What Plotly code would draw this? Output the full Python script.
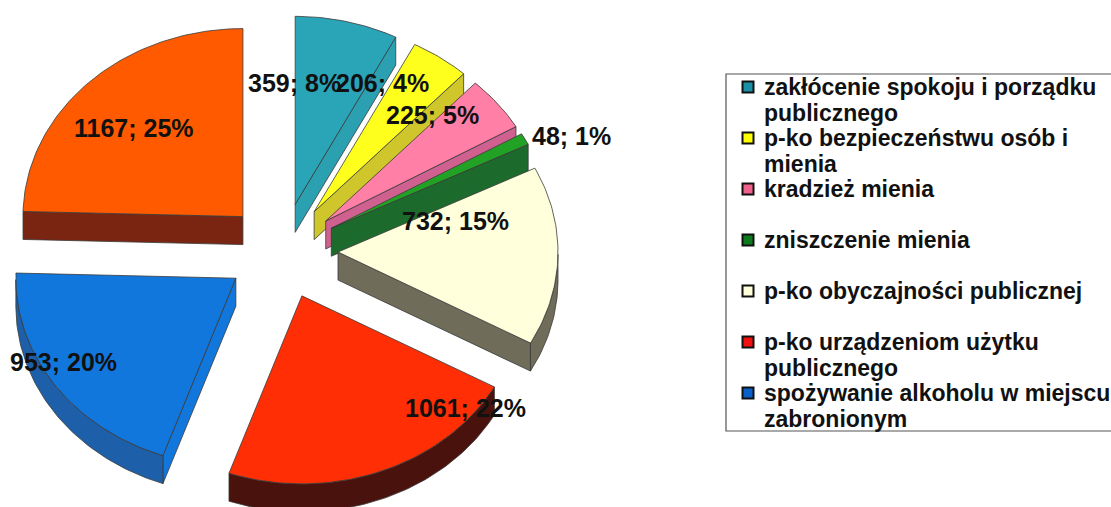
import math
import plotly.graph_objects as go

# --- data ---
categories = [
    "zakłócenie spokoju i porządku<br>publicznego",
    "p-ko bezpieczeństwu osób i<br>mienia",
    "kradzież mienia",
    "zniszczenie mienia",
    "p-ko obyczajności publicznej",
    "p-ko urządzeniom użytku<br>publicznego",
    "spożywanie alkoholu w miejscu<br>zabronionym",
]
values = [359, 206, 225, 48, 732, 1061, 953, 1167]

# --- style ---
top_colors = ["#2AA5B8", "#FFFF1E", "#FF7FA6", "#22A224", "#FFFFDC", "#FF2E05", "#1277DC", "#FF5A00"]
edge_colors = ["#2AA0B0", "#CFC62B", "#D0608F", "#1C6A2C", "#6F6D5A", "#4A120C", "#1277DC", "#7A2512"]
rim_colors = ["#1F7C8A", "#A8A020", "#A84C72", "#1C6A2C", "#6F6D5A", "#4A120C", "#1D5FA8", "#7A2512"]
swatch_colors = ["#1A8FA5", "#FFFF00", "#F0608A", "#0E7A1E", "#FFFFDC", "#F01010", "#0A60C8"]
label_centres = [(294, 83), (382, 83), (432, 115), (571, 136), (455, 221), (465, 408), (63, 362), (134, 128)]

CX, CY = 282, 251       # pie centre, pixels
RX, RY = 220, 188       # tilted pie radii
PX, PY = 56, 48         # explosion offset
DEPTH = 28
LINE = "#3A3A3A"
INK = "#111111"

LEGEND_LEFT, LEGEND_TOP, LEGEND_BOTTOM = 726, 74, 431
SWATCH_X, TEXT_X = 748, 762
FIRST_LINE_Y, ROW_STEP, LINE_STEP = 87, 51, 26

total = sum(values)
fig = go.Figure()


def polygon(points, color, line_width=0.8):
    fig.add_trace(go.Scatter(
        x=[p[0] for p in points] + [points[0][0]],
        y=[p[1] for p in points] + [points[0][1]],
        mode="lines", fill="toself", fillcolor=color,
        line=dict(color=LINE, width=line_width),
        hoverinfo="skip", showlegend=False,
    ))


start = 0.0
for i, v in enumerate(values):
    sweep = 360.0 * v / total
    end = start + sweep
    mid = math.radians(start + sweep / 2)
    ax = CX + PX * math.sin(mid)
    ay = CY - PY * math.cos(mid)

    def rim(deg, drop=0.0):
        t = math.radians(deg)
        return (ax + RX * math.sin(t), ay - RY * math.cos(t) + drop)

    steps = max(3, int(sweep))
    angles = [start + sweep * k / steps for k in range(steps + 1)]

    # radial side walls that face the viewer
    if math.sin(math.radians(end)) > 0:
        polygon([(ax, ay), rim(end), rim(end, DEPTH), (ax, ay + DEPTH)], edge_colors[i])
    if math.sin(math.radians(start)) < 0:
        polygon([(ax, ay), rim(start), rim(start, DEPTH), (ax, ay + DEPTH)], edge_colors[i])
    # outer rim wall, front half only
    front = [a for a in angles if 90 <= a <= 270]
    if len(front) > 1:
        polygon([rim(a) for a in front] + [rim(a, DEPTH) for a in reversed(front)], rim_colors[i])
    # top face
    polygon([(ax, ay)] + [rim(a) for a in angles], top_colors[i])

    start = end

# legend frame, swatches and text
fig.add_shape(type="rect", x0=LEGEND_LEFT, x1=1125, y0=LEGEND_TOP, y1=LEGEND_BOTTOM,
              xref="x", yref="y", line=dict(color="#555555", width=1.2), fillcolor="rgba(0,0,0,0)")
fig.add_trace(go.Scatter(
    x=[SWATCH_X] * len(categories),
    y=[FIRST_LINE_Y + ROW_STEP * k for k in range(len(categories))],
    mode="markers", showlegend=False, hoverinfo="skip",
    marker=dict(symbol="square", size=11, color=swatch_colors, line=dict(color=INK, width=2)),
))
for k, name in enumerate(categories):
    for j, line in enumerate(name.split("<br>")):
        fig.add_annotation(
            x=TEXT_X, y=FIRST_LINE_Y + ROW_STEP * k + LINE_STEP * j,
            xref="x", yref="y", xanchor="left", showarrow=False, text=line,
            font=dict(family="Liberation Sans", size=23, color=INK, weight=700),
        )

# value labels
for v, (lx, ly) in zip(values, label_centres):
    fig.add_annotation(
        x=lx, y=ly, xref="x", yref="y", showarrow=False,
        text=f"{v}; {round(100 * v / total)}%",
        font=dict(family="Liberation Sans", size=25, color=INK, weight=700),
    )

fig.update_layout(
    width=1111, height=507, autosize=False,
    margin=dict(l=0, r=0, t=0, b=0),
    paper_bgcolor="white", plot_bgcolor="white",
    xaxis=dict(range=[0, 1111], visible=False, fixedrange=True),
    yaxis=dict(range=[507, 0], visible=False, fixedrange=True),
    showlegend=False,
)

fig.write_html(
    "out.html",
    config={"displayModeBar": False},
    post_script="document.body.style.margin='0';document.body.style.overflow='hidden';",
)
